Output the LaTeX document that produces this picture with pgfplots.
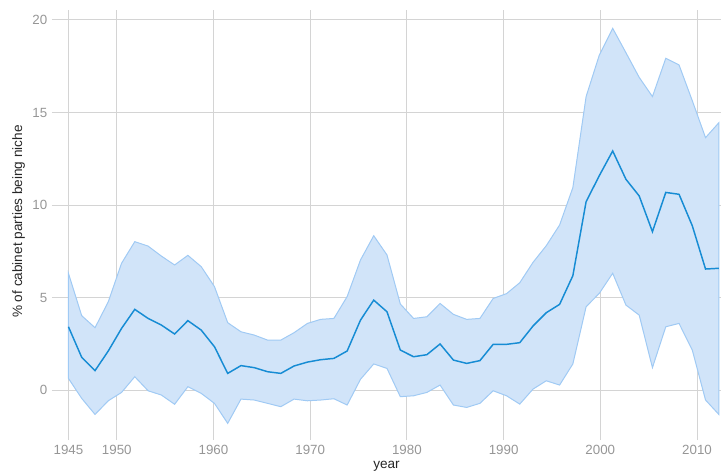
\documentclass[border=0pt]{standalone}
\usepackage{fontspec}
\setmainfont{Liberation Sans}
\usepackage{pgfplots}
\usepackage{pgfplotstable}
\pgfplotsset{compat=1.18}
\definecolor{bandfill}{RGB}{209,228,249}
\definecolor{bandedge}{RGB}{160,202,244}
\definecolor{meanline}{RGB}{22,140,212}
\definecolor{gridc}{RGB}{212,212,212}
\definecolor{tickc}{RGB}{150,150,150}
\pgfplotstableread{
x m
1945.00 3.42
1946.37 1.77
1947.75 1.05
1949.12 2.11
1950.49 3.33
1951.86 4.36
1953.24 3.87
1954.61 3.51
1955.98 3.03
1957.35 3.75
1958.73 3.24
1960.10 2.34
1961.47 0.90
1962.84 1.32
1964.22 1.21
1965.59 0.99
1966.96 0.90
1968.33 1.30
1969.71 1.51
1971.08 1.64
1972.45 1.71
1973.82 2.11
1975.20 3.78
1976.57 4.86
1977.94 4.23
1979.32 2.16
1980.69 1.80
1982.06 1.91
1983.43 2.49
1984.81 1.62
1986.18 1.44
1987.55 1.59
1988.92 2.47
1990.30 2.47
1991.67 2.56
1993.04 3.46
1994.41 4.18
1995.79 4.63
1997.16 6.18
1998.53 10.18
1999.90 11.59
2001.28 12.92
2002.65 11.39
2004.02 10.49
2005.39 8.56
2006.77 10.68
2008.14 10.58
2009.51 8.88
2010.88 6.54
2012.26 6.58
}\meandata
% confidence band outline: upper bound forward, lower bound backward
\pgfplotstableread{
x y
1945.00 6.31
1946.37 4.02
1947.75 3.37
1949.12 4.77
1950.49 6.85
1951.86 8.02
1953.24 7.78
1954.61 7.24
1955.98 6.76
1957.35 7.28
1958.73 6.67
1960.10 5.59
1961.47 3.64
1962.84 3.15
1964.22 2.97
1965.59 2.70
1966.96 2.70
1968.33 3.10
1969.71 3.60
1971.08 3.82
1972.45 3.87
1973.82 5.05
1975.20 7.03
1976.57 8.34
1977.94 7.30
1979.32 4.65
1980.69 3.87
1982.06 3.96
1983.43 4.68
1984.81 4.09
1986.18 3.82
1987.55 3.87
1988.92 4.95
1990.30 5.21
1991.67 5.80
1993.04 6.90
1994.41 7.80
1995.79 8.92
1997.16 10.94
1998.53 15.86
1999.90 18.11
2001.28 19.55
2002.65 18.23
2004.02 16.90
2005.39 15.86
2006.77 17.93
2008.14 17.57
2009.51 15.64
2010.88 13.64
2012.26 14.45
2012.26 -1.32
2010.88 -0.54
2009.51 2.16
2008.14 3.60
2006.77 3.42
2005.39 1.21
2004.02 4.05
2002.65 4.59
2001.28 6.31
1999.90 5.23
1998.53 4.50
1997.16 1.41
1995.79 0.27
1994.41 0.50
1993.04 0.05
1991.67 -0.76
1990.30 -0.31
1988.92 -0.04
1987.55 -0.72
1986.18 -0.94
1984.81 -0.81
1983.43 0.27
1982.06 -0.13
1980.69 -0.31
1979.32 -0.36
1977.94 1.17
1976.57 1.41
1975.20 0.58
1973.82 -0.81
1972.45 -0.47
1971.08 -0.54
1969.71 -0.58
1968.33 -0.49
1966.96 -0.90
1965.59 -0.72
1964.22 -0.54
1962.84 -0.49
1961.47 -1.80
1960.10 -0.72
1958.73 -0.18
1957.35 0.18
1955.98 -0.77
1954.61 -0.27
1953.24 -0.04
1951.86 0.72
1950.49 -0.13
1949.12 -0.58
1947.75 -1.32
1946.37 -0.45
1945.00 0.63
}\banddata
\begin{document}
\begin{tikzpicture}
\begin{axis}[
  scale only axis,
  width=501.75pt, height=322.5pt,
  xmin=1943.3, xmax=2012.48,
  ymin=-2.70, ymax=20.54,
  enlargelimits=false,
  axis line style={draw=none},
  major tick length=0pt,
  tick style={draw=none},
  xtick={1945,1950,1960,1970,1980,1990,2000,2010},
  ytick={0,5,10,15,20},
  /pgf/number format/1000 sep={},
  /pgf/number format/assume math mode=true,
  grid=major,
  grid style={gridc, line width=0.75pt},
  ticklabel style={font=\fontsize{10}{12}\selectfont, text=tickc},
  xlabel={year},
  ylabel={\% of cabinet parties being niche},
  label style={font=\fontsize{10.2}{12}\selectfont, text=black!85},
  xlabel style={at={(axis description cs:0.5,0)}, anchor=center, yshift=-19.5pt},
  ylabel style={at={(axis description cs:-0.05,0.508)}, anchor=center},
]
\addplot[fill=bandfill, draw=bandedge, line width=0.75pt] table[x=x,y=y]{\banddata} -- cycle;
\addplot[draw=meanline, line width=1.1pt] table[x=x,y=m]{\meandata};
\end{axis}
\pgfresetboundingbox
\useasboundingbox (-39pt,-26.25pt) rectangle (501.75pt,330pt);
\end{tikzpicture}
\end{document}
